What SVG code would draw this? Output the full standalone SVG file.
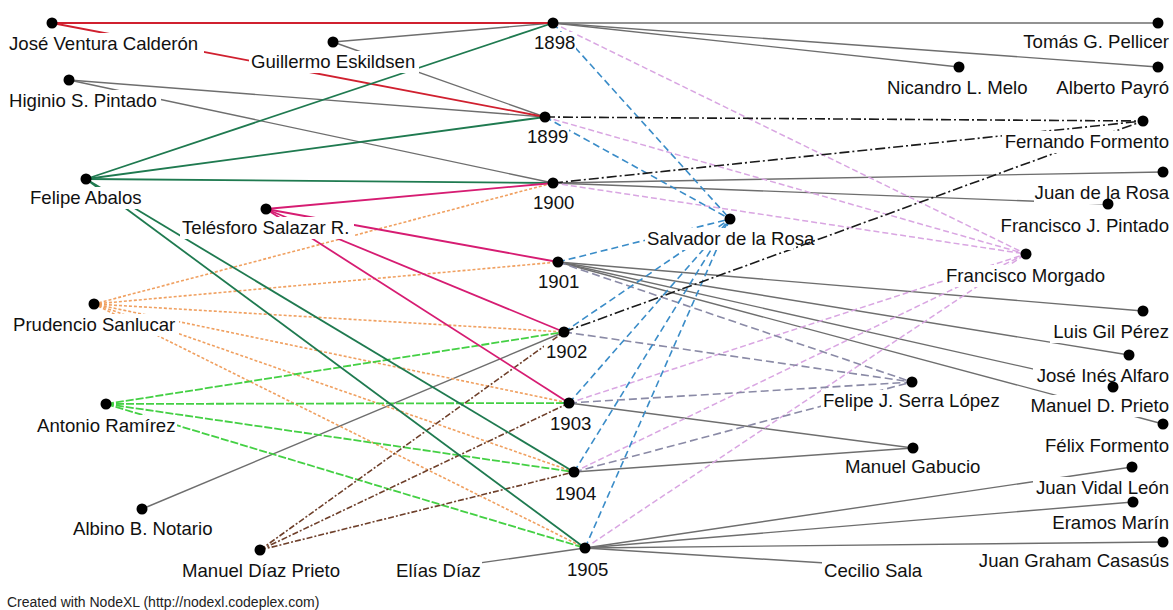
<svg xmlns="http://www.w3.org/2000/svg" width="1173" height="610" viewBox="0 0 1173 610">
<style>
.e{fill:none;stroke-width:1.6}
.g{stroke:#6e6e6e;stroke-width:1.4}
.r{stroke:#d0202f;stroke-width:1.8}
.dg{stroke:#1f7a50;stroke-width:1.8}
.mg{stroke:#d61c72;stroke-width:1.8}
.or{stroke:#f0a060;stroke-width:1.6;stroke-dasharray:3 2}
.bg{stroke:#44d044;stroke-width:1.8;stroke-dasharray:8 2}
.br{stroke:#6e3f2a;stroke-width:1.6;stroke-dasharray:6 2 2 2}
.bl{stroke:#3a8cc8;stroke-width:1.6;stroke-dasharray:7 4}
.li{stroke:#d9a6e2;stroke-width:1.5;stroke-dasharray:6 3}
.sl{stroke:#8a8aa6;stroke-width:1.6;stroke-dasharray:8 4}
.bk{stroke:#1a1a1a;stroke-width:1.6;stroke-dasharray:10 3 2 3}
.dot{fill:#000}
.bgr{fill:#fff}
.lb{font-family:"Liberation Sans",Arial,sans-serif;font-size:18.6px;fill:#111}
.lr{font-family:"Liberation Sans",Arial,sans-serif;font-size:18.6px;fill:#111;text-anchor:end}
.ft{font-family:"Liberation Sans",Arial,sans-serif;font-size:14px;fill:#222}
</style>
<rect width="1173" height="610" fill="#fff"/>
<g id="connectors" class="e">
<line class="g" x1="333" y1="42" x2="553" y2="23"/>
<line class="g" x1="333" y1="42" x2="545" y2="117"/>
<line class="g" x1="69" y1="80" x2="545" y2="117"/>
<line class="g" x1="69" y1="80" x2="553" y2="183"/>
<line class="g" x1="142" y1="509" x2="564" y2="332"/>
<line class="g" x1="437" y1="569" x2="585" y2="548"/>
<line class="g" x1="553" y1="23" x2="1158" y2="23"/>
<line class="g" x1="553" y1="23" x2="959" y2="67"/>
<line class="g" x1="553" y1="23" x2="1158" y2="67"/>
<line class="g" x1="553" y1="183" x2="1163" y2="172"/>
<line class="g" x1="553" y1="183" x2="1108" y2="204"/>
<line class="g" x1="558" y1="262" x2="1143" y2="311"/>
<line class="g" x1="558" y1="262" x2="1129" y2="355"/>
<line class="g" x1="558" y1="262" x2="1113" y2="387"/>
<line class="g" x1="558" y1="262" x2="1163" y2="424"/>
<line class="g" x1="569" y1="403" x2="913" y2="448"/>
<line class="g" x1="574" y1="472" x2="913" y2="448"/>
<line class="g" x1="585" y1="548" x2="1132" y2="467"/>
<line class="g" x1="585" y1="548" x2="1133" y2="502"/>
<line class="g" x1="585" y1="548" x2="1163" y2="542"/>
<line class="g" x1="585" y1="548" x2="873" y2="566"/>
<line class="li" x1="553" y1="23" x2="1026" y2="254"/>
<line class="li" x1="545" y1="117" x2="1026" y2="254"/>
<line class="li" x1="553" y1="183" x2="1026" y2="254"/>
<line class="li" x1="569" y1="403" x2="1026" y2="254"/>
<line class="li" x1="574" y1="472" x2="1026" y2="254"/>
<line class="li" x1="585" y1="548" x2="1026" y2="254"/>
<line class="sl" x1="558" y1="262" x2="912" y2="382"/>
<line class="sl" x1="564" y1="332" x2="912" y2="382"/>
<line class="sl" x1="569" y1="403" x2="912" y2="382"/>
<line class="sl" x1="574" y1="472" x2="912" y2="382"/>
<line class="or" x1="94" y1="304" x2="553" y2="183"/>
<line class="or" x1="94" y1="304" x2="558" y2="262"/>
<line class="or" x1="94" y1="304" x2="564" y2="332"/>
<line class="or" x1="94" y1="304" x2="569" y2="403"/>
<line class="or" x1="94" y1="304" x2="574" y2="472"/>
<line class="or" x1="94" y1="304" x2="585" y2="548"/>
<line class="bg" x1="106" y1="404" x2="564" y2="332"/>
<line class="bg" x1="106" y1="404" x2="569" y2="403"/>
<line class="bg" x1="106" y1="404" x2="574" y2="472"/>
<line class="bg" x1="106" y1="404" x2="585" y2="548"/>
<line class="br" x1="260" y1="550" x2="564" y2="332"/>
<line class="br" x1="260" y1="550" x2="569" y2="403"/>
<line class="br" x1="260" y1="550" x2="574" y2="472"/>
<line class="r" x1="52" y1="23" x2="553" y2="23"/>
<line class="r" x1="52" y1="23" x2="545" y2="117"/>
<line class="dg" x1="86" y1="179" x2="553" y2="23"/>
<line class="dg" x1="86" y1="179" x2="545" y2="117"/>
<line class="dg" x1="86" y1="179" x2="553" y2="183"/>
<line class="dg" x1="86" y1="179" x2="574" y2="472"/>
<line class="dg" x1="86" y1="179" x2="585" y2="548"/>
<line class="mg" x1="266" y1="209" x2="553" y2="183"/>
<line class="mg" x1="266" y1="209" x2="558" y2="262"/>
<line class="mg" x1="266" y1="209" x2="564" y2="332"/>
<line class="mg" x1="266" y1="209" x2="569" y2="403"/>
<line class="bl" x1="553" y1="23" x2="730" y2="219"/>
<line class="bl" x1="545" y1="117" x2="730" y2="219"/>
<line class="bl" x1="558" y1="262" x2="730" y2="219"/>
<line class="bl" x1="564" y1="332" x2="730" y2="219"/>
<line class="bl" x1="569" y1="403" x2="730" y2="219"/>
<line class="bl" x1="574" y1="472" x2="730" y2="219"/>
<line class="bl" x1="585" y1="548" x2="730" y2="219"/>
<line class="bk" x1="545" y1="117" x2="1143" y2="121"/>
<line class="bk" x1="553" y1="183" x2="1143" y2="121"/>
<line class="bk" x1="564" y1="332" x2="1143" y2="121"/>
</g>
<g id="n-jvc"><rect class="bgr" x="7" y="33" width="197" height="22"/><text class="lb" x="9" y="50">José Ventura Calderón</text><circle class="dot" cx="52" cy="23" r="5.5"/></g>
<g id="n-ge"><rect class="bgr" x="249" y="51" width="170" height="22"/><text class="lb" x="251" y="68">Guillermo Eskildsen</text><circle class="dot" cx="333" cy="42" r="5.5"/></g>
<g id="n-hsp"><rect class="bgr" x="7" y="90" width="154" height="22"/><text class="lb" x="9" y="107">Higinio S. Pintado</text><circle class="dot" cx="69" cy="80" r="5.5"/></g>
<g id="n-fa"><rect class="bgr" x="28" y="187" width="118" height="22"/><text class="lb" x="30" y="204">Felipe Abalos</text><circle class="dot" cx="86" cy="179" r="5.5"/></g>
<g id="n-tsr"><rect class="bgr" x="180" y="217" width="174" height="22"/><text class="lb" x="182" y="234">Telésforo Salazar R.</text><circle class="dot" cx="266" cy="209" r="5.5"/></g>
<g id="n-ps"><rect class="bgr" x="11" y="314" width="168" height="22"/><text class="lb" x="13" y="331">Prudencio Sanlucar</text><circle class="dot" cx="94" cy="304" r="5.5"/></g>
<g id="n-ar"><rect class="bgr" x="35" y="415" width="142" height="22"/><text class="lb" x="37" y="432">Antonio Ramírez</text><circle class="dot" cx="106" cy="404" r="5.5"/></g>
<g id="n-abn"><rect class="bgr" x="71" y="518" width="145" height="22"/><text class="lb" x="73" y="535">Albino B. Notario</text><circle class="dot" cx="142" cy="509" r="5.5"/></g>
<g id="n-mdp"><rect class="bgr" x="180" y="560" width="162" height="22"/><text class="lb" x="182" y="577">Manuel Díaz Prieto</text><circle class="dot" cx="260" cy="550" r="5.5"/></g>
<g id="n-ed"><rect class="bgr" x="394" y="560" width="88" height="22"/><text class="lb" x="396" y="577">Elías Díaz</text></g>
<g id="y1898"><rect class="bgr" x="532" y="32" width="44" height="22"/><text class="lb" x="534" y="49">1898</text><circle class="dot" cx="553" cy="23" r="5.5"/></g>
<g id="y1899"><rect class="bgr" x="525" y="126" width="44" height="22"/><text class="lb" x="527" y="143">1899</text><circle class="dot" cx="545" cy="117" r="5.5"/></g>
<g id="y1900"><rect class="bgr" x="531" y="192" width="45" height="22"/><text class="lb" x="533" y="209">1900</text><circle class="dot" cx="553" cy="183" r="5.5"/></g>
<g id="y1901"><rect class="bgr" x="536" y="271" width="45" height="22"/><text class="lb" x="538" y="288">1901</text><circle class="dot" cx="558" cy="262" r="5.5"/></g>
<g id="y1902"><rect class="bgr" x="544" y="341" width="45" height="22"/><text class="lb" x="546" y="358">1902</text><circle class="dot" cx="564" cy="332" r="5.5"/></g>
<g id="y1903"><rect class="bgr" x="548" y="413" width="45" height="22"/><text class="lb" x="550" y="430">1903</text><circle class="dot" cx="569" cy="403" r="5.5"/></g>
<g id="y1904"><rect class="bgr" x="553" y="483" width="45" height="22"/><text class="lb" x="555" y="500">1904</text><circle class="dot" cx="574" cy="472" r="5.5"/></g>
<g id="y1905"><rect class="bgr" x="565" y="559" width="45" height="22"/><text class="lb" x="567" y="576">1905</text><circle class="dot" cx="585" cy="548" r="5.5"/></g>
<g id="n-tgp"><rect class="bgr" x="1019" y="31" width="152" height="22"/><text class="lr" x="1169" y="48">Tomás G. Pellicer</text><circle class="dot" cx="1158" cy="23" r="5.5"/></g>
<g id="n-nlm"><rect class="bgr" x="885" y="77" width="147" height="22"/><text class="lb" x="887" y="94">Nicandro L. Melo</text><circle class="dot" cx="959" cy="67" r="5.5"/></g>
<g id="n-ap"><rect class="bgr" x="1053" y="77" width="118" height="22"/><text class="lr" x="1169" y="94">Alberto Payró</text><circle class="dot" cx="1158" cy="67" r="5.5"/></g>
<g id="n-ff"><rect class="bgr" x="1002" y="131" width="169" height="22"/><text class="lr" x="1169" y="148">Fernando Formento</text><circle class="dot" cx="1143" cy="121" r="5.5"/></g>
<g id="n-jr"><rect class="bgr" x="1034" y="182" width="137" height="22"/><text class="lr" x="1169" y="199">Juan de la Rosa</text><circle class="dot" cx="1163" cy="172" r="5.5"/></g>
<g id="n-fjp"><rect class="bgr" x="999" y="215" width="172" height="22"/><text class="lr" x="1169" y="232">Francisco J. Pintado</text><circle class="dot" cx="1108" cy="204" r="5.5"/></g>
<g id="n-sr"><rect class="bgr" x="645" y="228" width="148" height="22"/><text class="lb" x="647" y="245">Salvador de la Rosa</text><circle class="dot" cx="730" cy="219" r="5.5"/></g>
<g id="n-fm"><rect class="bgr" x="944" y="265" width="165" height="22"/><text class="lb" x="946" y="282">Francisco Morgado</text><circle class="dot" cx="1026" cy="254" r="5.5"/></g>
<g id="n-lgp"><rect class="bgr" x="1050" y="321" width="121" height="22"/><text class="lr" x="1169" y="338">Luis Gil Pérez</text><circle class="dot" cx="1143" cy="311" r="5.5"/></g>
<g id="n-jia"><rect class="bgr" x="1033" y="365" width="138" height="22"/><text class="lr" x="1169" y="382">José Inés Alfaro</text><circle class="dot" cx="1129" cy="355" r="5.5"/></g>
<g id="n-fsl"><rect class="bgr" x="821" y="390" width="181" height="22"/><text class="lb" x="823" y="407">Felipe J. Serra López</text><circle class="dot" cx="912" cy="382" r="5.5"/></g>
<g id="n-mdpr"><rect class="bgr" x="1028" y="395" width="143" height="22"/><text class="lr" x="1169" y="412">Manuel D. Prieto</text><circle class="dot" cx="1113" cy="387" r="5.5"/></g>
<g id="n-fxf"><rect class="bgr" x="1043" y="435" width="128" height="22"/><text class="lr" x="1169" y="452">Félix Formento</text><circle class="dot" cx="1163" cy="424" r="5.5"/></g>
<g id="n-mg"><rect class="bgr" x="843" y="456" width="141" height="22"/><text class="lb" x="845" y="473">Manuel Gabucio</text><circle class="dot" cx="913" cy="448" r="5.5"/></g>
<g id="n-jvl"><rect class="bgr" x="1033" y="477" width="138" height="22"/><text class="lr" x="1169" y="494">Juan Vidal León</text><circle class="dot" cx="1132" cy="467" r="5.5"/></g>
<g id="n-em"><rect class="bgr" x="1051" y="512" width="120" height="22"/><text class="lr" x="1169" y="529">Eramos Marín</text><circle class="dot" cx="1133" cy="502" r="5.5"/></g>
<g id="n-jgc"><rect class="bgr" x="976" y="550" width="195" height="22"/><text class="lr" x="1169" y="567">Juan Graham Casasús</text><circle class="dot" cx="1163" cy="542" r="5.5"/></g>
<g id="n-cs"><rect class="bgr" x="822" y="560" width="105" height="22"/><text class="lb" x="824" y="577">Cecilio Sala</text></g>
<text class="ft" x="7" y="607">Created with NodeXL (http://nodexl.codeplex.com)</text>
</svg>
